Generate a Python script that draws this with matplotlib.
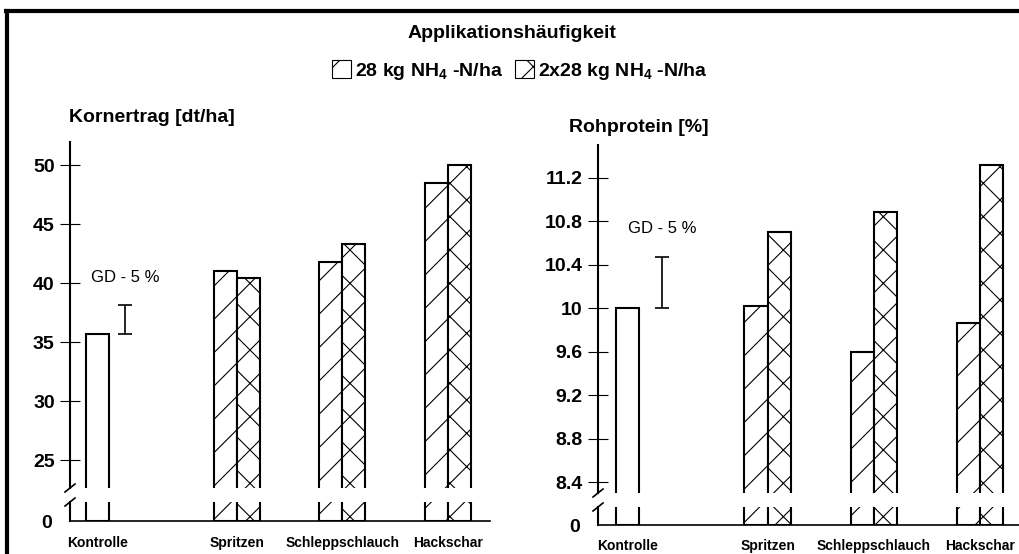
import matplotlib
matplotlib.use("Agg")
import matplotlib.pyplot as plt
from matplotlib.patches import Patch
from matplotlib.lines import Line2D

# ---- data ----
categories = ["Kontrolle", "Spritzen", "Schleppschlauch", "Hackschar"]
# Kornertrag [dt/ha]
ertrag_kontrolle = 35.7
ertrag_single = [41.0, 41.8, 48.5]     # 28 kg NH4-N/ha
ertrag_double = [40.4, 43.3, 50.0]     # 2x28 kg NH4-N/ha
ertrag_gd = 2.4
ertrag_ticks = [25, 30, 35, 40, 45, 50]
# Rohprotein [%]
protein_kontrolle = 10.0
protein_single = [10.02, 9.60, 9.87]
protein_double = [10.70, 10.89, 11.32]
protein_gd = 0.47
protein_ticks = [8.4, 8.8, 9.2, 9.6, 10.0, 10.4, 10.8, 11.2]
protein_ticklabels = ["8.4", "8.8", "9.2", "9.6", "10", "10.4", "10.8", "11.2"]

legend_labels = [r"28 kg NH$_\mathregular{4}$ -N/ha", r"2x28 kg NH$_\mathregular{4}$ -N/ha"]

plt.rcParams["font.family"] = ["Liberation Sans", "DejaVu Sans"]
plt.rcParams["mathtext.default"] = "regular"
plt.rcParams["hatch.linewidth"] = 0.8

W, H = 1019, 554
fig = plt.figure(figsize=(W / 100, H / 100), dpi=100)

def fx(px):
    return px / W

def fy(py):
    return 1 - py / H

positions = [0.0, 1.32, 2.32, 3.32]
bw = 0.218

def panel(x0, x1, top_py, brk_py, low_top_py, zero_py, ylim_up, xlim,
          kontrolle, single, double, gd, gd_x, gd_text_y, ticks, ticklabels, title, title_px,
          label_off):
    ax = fig.add_axes([fx(x0), fy(brk_py), fx(x1 - x0), (brk_py - top_py) / H])
    axl = fig.add_axes([fx(x0), fy(zero_py), fx(x1 - x0), (zero_py - low_top_py) / H])
    for a in (ax, axl):
        a.set_xlim(*xlim)
        a.patch.set_alpha(0)
        a.spines["top"].set_visible(False)
        a.spines["right"].set_visible(False)
        a.spines["left"].set_linewidth(1.5)
        a.bar(positions[0], kontrolle, width=bw, facecolor="white", edgecolor="black", linewidth=1.5)
        a.bar([p - bw / 2 for p in positions[1:]], single, width=bw, facecolor="white",
              edgecolor="black", linewidth=1.5, hatch="/")
        a.bar([p + bw / 2 for p in positions[1:]], double, width=bw, facecolor="white",
              edgecolor="black", linewidth=1.5, hatch="x")
        a.set_xticks([])
    ax.spines["bottom"].set_visible(False)
    ax.set_ylim(*ylim_up)
    ax.set_yticks(ticks)
    ax.set_yticklabels(ticklabels)
    ax.tick_params(axis="y", direction="inout", length=14, width=0.8, labelsize=14, pad=4)
    for t in ax.get_yticklabels():
        t.set_fontweight("bold")
    axl.set_ylim(0, 1)
    axl.spines["bottom"].set_linewidth(1.2)
    axl.set_yticks([0])
    axl.set_yticklabels(["0"])
    axl.tick_params(axis="y", length=0, labelsize=14, pad=13)
    for t in axl.get_yticklabels():
        t.set_fontweight("bold")
    # category labels
    for p, c in zip(positions, categories):
        axl.annotate(c, (p, 0), xycoords=("data", "axes fraction"),
                     xytext=(0, -label_off), textcoords="offset points",
                     ha="center", va="top", fontsize=10, fontweight="bold")
    # GD error bar
    ax.errorbar([gd_x], [kontrolle + gd / 2], yerr=[gd / 2], color="black", capsize=5,
                elinewidth=1.2, capthick=1.2)
    ax.text(gd_x, gd_text_y, "GD - 5 %", ha="center", va="center", fontsize=12)
    # break marks
    d = 5
    fig.add_artist(Line2D([fx(x0 - d), fx(x0 + d)], [fy(brk_py + 4), fy(brk_py - 4)],
                          color="black", lw=1.2))
    fig.add_artist(Line2D([fx(x0 - d), fx(x0 + d)], [fy(low_top_py + 4), fy(low_top_py - 4)],
                          color="black", lw=1.2))
    fig.text(fx(title_px[0]), fy(title_px[1]), title, ha="left", va="center",
             fontsize=14, fontweight="bold")
    return ax, axl

# left panel
panel(70, 490, 142, 488, 502, 521,
      (50 - (488 - 165) / 11.8, 50 + (165 - 142) / 11.8),
      (-0.261, 3.718),
      ertrag_kontrolle, ertrag_single, ertrag_double, ertrag_gd, 0.26, 40.5,
      ertrag_ticks, [str(t) for t in ertrag_ticks], "Kornertrag [dt/ha]", (69, 118), 11)

# right panel
panel(598, 1019, 145, 493, 507, 525,
      (11.2 - (493 - 178) / 108.75, 11.2 + (178 - 145) / 108.75),
      (-0.278, 3.69),
      protein_kontrolle, protein_single, protein_double, protein_gd, 0.325, 10.74,
      protein_ticks, protein_ticklabels, "Rohprotein [%]", (569, 127), 10)

# title and legend
fig.text(fx(512), fy(33), "Applikationshäufigkeit", ha="center", va="center",
         fontsize=14, fontweight="bold")
handles = [Patch(facecolor="white", edgecolor="black", hatch="/", linewidth=0.8),
           Patch(facecolor="white", edgecolor="black", hatch="x", linewidth=0.8)]
fig.legend(handles, legend_labels, loc="center", bbox_to_anchor=(fx(520), fy(71)),
           ncol=2, frameon=False, handlelength=1.0, handleheight=1.0, handletextpad=0.2,
           columnspacing=0.6, prop={"weight": "bold", "size": 14})

# frame
fig.add_artist(Line2D([fx(7), fx(7)], [fy(11), 0], color="black", lw=3))
fig.add_artist(Line2D([fx(5.5), 1], [fy(11), fy(11)], color="black", lw=3))

fig.savefig("out.png", dpi=100)
